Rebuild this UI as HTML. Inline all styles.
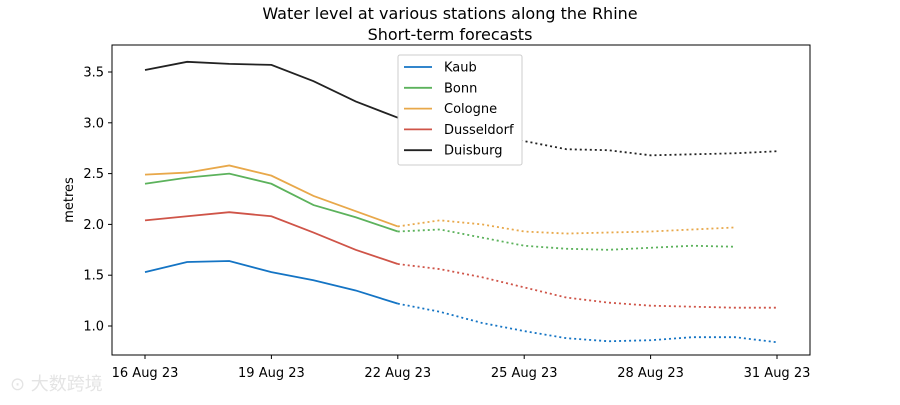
<!DOCTYPE html>
<html><head><meta charset="utf-8"><style>
body{margin:0;background:#fff;font-family:"Liberation Sans","DejaVu Sans",sans-serif;}
svg text{font-family:"DejaVu Sans","Liberation Sans",sans-serif;}
</style></head><body>
<svg id="c" width="900" height="400"></svg>
<script>
const dates=["16 Aug 23","17","18","19","20","21","22","23","24","25","26","27","28","29","30","31"];
const tickLabels=["16 Aug 23","19 Aug 23","22 Aug 23","25 Aug 23","28 Aug 23","31 Aug 23"];
const tickDays=[0,3,6,9,12,15];
const yTicks=[1.0,1.5,2.0,2.5,3.0,3.5];
const kaub=[1.53,1.63,1.64,1.53,1.45,1.35,1.22,1.14,1.03,0.95,0.88,0.85,0.86,0.89,0.89,0.84];
const bonn=[2.40,2.46,2.50,2.40,2.19,2.07,1.93,1.95,1.87,1.79,1.76,1.75,1.77,1.79,1.78];
const cologne=[2.49,2.51,2.58,2.48,2.28,2.13,1.98,2.04,2.00,1.93,1.91,1.92,1.93,1.95,1.97];
const dusseldorf=[2.04,2.08,2.12,2.08,1.92,1.75,1.61,1.56,1.48,1.38,1.28,1.23,1.20,1.19,1.18,1.18];
const duisburg=[3.52,3.60,3.58,3.57,3.41,3.21,3.05,2.98,2.88,2.82,2.74,2.73,2.68,2.69,2.70,2.72];
const seriesNames=["Kaub","Bonn","Cologne","Dusseldorf","Duisburg"];
const seriesColors=["#1474c4","#5cb25c","#e8a84a","#cf5448","#222222"];
const seriesData=[kaub,bonn,cologne,dusseldorf,duisburg];
const observedCount=7;

const L=112,R=810,T=45,B=355;
const x=d=>145+d*(632/15);
const y=v=>326-(v-1.0)*101.6;
const svg=document.getElementById('c');
const NS="http://www.w3.org/2000/svg";
function mk(t,a,txt){const e=document.createElementNS(NS,t);for(const k in a)e.setAttribute(k,a[k]);if(txt!==undefined)e.textContent=txt;svg.appendChild(e);return e;}

let e=mk('text',{x:450,y:19,'text-anchor':'middle','font-size':16},'Water level at various stations along the Rhine');

e=mk('text',{x:450,y:40,'text-anchor':'middle','font-size':16},'Short-term forecasts');


e=mk('rect',{x:L,y:T,width:R-L,height:B-T,fill:'none',stroke:'#000','stroke-width':1});


yTicks.forEach(v=>{
  const yy=y(v);
  let l=mk('line',{x1:L-4,x2:L,y1:yy,y2:yy,stroke:'#000'});
  
  let t=mk('text',{x:L-8,y:yy+4.5,'text-anchor':'end','font-size':13},v.toFixed(1));
  
});
tickDays.forEach((d,i)=>{
  const xx=x(d);
  let l=mk('line',{x1:xx,x2:xx,y1:B,y2:B+4,stroke:'#000'});
  
  let t=mk('text',{x:xx,y:B+22,'text-anchor':'middle','font-size':13},tickLabels[i]);
  
});
e=mk('text',{x:73,y:200,'text-anchor':'middle','font-size':13,transform:'rotate(-90 73 200)'},'metres');


seriesData.forEach((arr,s)=>{
  const obs=arr.slice(0,observedCount).map((v,i)=>x(i)+','+y(v)).join(' ');
  const fc=arr.slice(observedCount-1).map((v,i)=>x(i+observedCount-1)+','+y(v)).join(' ');
  let p=mk('polyline',{points:obs,fill:'none',stroke:seriesColors[s],'stroke-width':1.8});
  
  let q=mk('polyline',{points:fc,fill:'none',stroke:seriesColors[s],'stroke-width':1.8,'stroke-dasharray':'2,3'});
  
});

e=mk('rect',{x:398,y:55,width:124,height:110,fill:'#fff',stroke:'#ccc',rx:2});

seriesNames.forEach((n,i)=>{
  const yy=67+i*20.8;
  let l=mk('line',{x1:404,x2:432,y1:yy,y2:yy,stroke:seriesColors[i],'stroke-width':1.8});
  
  let t=mk('text',{x:444,y:yy+4.5,'font-size':13},n);
  
});
e=mk('text',{x:10,y:390,'font-size':18,fill:'#e4e4e4','font-family':'Noto Sans CJK SC, sans-serif'},'⊙ 大数跨境');

</script>
</body></html>
